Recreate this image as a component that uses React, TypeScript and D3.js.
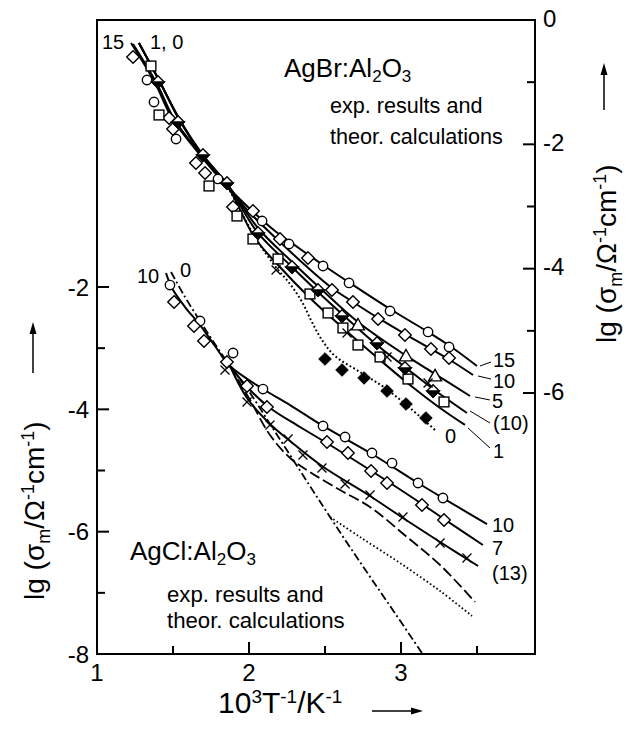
import React from "react";
import * as d3 from "d3";

const FONT = "'Liberation Sans', Arial, Helvetica, sans-serif";

// ---- axis ticks ----
const xTickLabels = [1, 2, 3];
const xMinorTicks = [1.5, 2.5, 3.5];
const leftTickLabels = [-2, -4, -6, -8];
const leftMinorTicks = [-3, -5, -7];
const rightTickLabels = [0, -2, -4, -6];
const rightMinorTicks = [-1, -3, -5];

type P = [number, number];

// ---- AgBr:Al2O3 (right axis) theoretical curves ----
const agBr15: P[] = [[1.224,-0.37],[1.382,-1.013],[1.493,-1.576],[1.678,-2.171],[1.829,-2.606],[2.007,-3.04],[2.171,-3.394],[2.336,-3.683],[2.487,-3.941],[2.664,-4.23],[2.928,-4.649],[3.178,-5.018],[3.322,-5.244],[3.5,-5.565]];
const agBr10: P[] = [[1.237,-0.386],[1.395,-1.029],[1.507,-1.592],[1.691,-2.188],[1.842,-2.638],[2.007,-3.104],[2.204,-3.571],[2.368,-3.941],[2.546,-4.311],[2.684,-4.536],[2.849,-4.793],[3.026,-5.051],[3.197,-5.292],[3.322,-5.469],[3.474,-5.71]];
const agBr5: P[] = [[1.276,-0.37],[1.414,-0.997],[1.546,-1.608],[1.697,-2.171],[1.862,-2.654],[2.059,-3.346],[2.27,-3.86],[2.467,-4.311],[2.717,-4.858],[3.026,-5.388],[3.224,-5.694],[3.454,-6.048]];
const agBr10p: P[] = [[1.276,-0.37],[1.414,-0.997],[1.546,-1.625],[1.697,-2.188],[1.862,-2.67],[2.059,-3.426],[2.283,-3.973],[2.454,-4.375],[2.612,-4.729],[2.842,-5.228],[3.026,-5.581],[3.211,-5.935],[3.434,-6.321]];
const agBr1: P[] = [[1.276,-0.37],[1.414,-0.997],[1.546,-1.625],[1.697,-2.188],[1.862,-2.686],[2.039,-3.506],[2.191,-3.941],[2.401,-4.472],[2.618,-4.954],[2.862,-5.469],[3.059,-5.871],[3.257,-6.241],[3.421,-6.514]];
const agBr0: P[] = [[1.862,-2.686],[2.039,-3.49],[2.171,-3.957],[2.27,-4.246],[2.349,-4.536],[2.414,-4.858],[2.48,-5.147],[2.566,-5.405],[2.73,-5.662],[2.895,-5.919],[3.059,-6.241],[3.224,-6.595]];

// ---- AgBr experimental points ----
const agBrCircles: P[] = [[1.329,-0.965],[1.375,-1.319],[1.52,-1.914],[1.796,-2.557],[2.086,-3.233],[2.263,-3.603],[2.487,-3.957],[2.658,-4.23],[2.928,-4.681],[3.178,-5.018],[3.316,-5.26]];
const agBrDiamonds: P[] = [[1.237,-0.595],[1.474,-1.576],[1.5,-1.753],[1.651,-2.3],[1.711,-2.461],[1.895,-3.008],[2.026,-3.072],[2.204,-3.523],[2.388,-3.828],[2.546,-4.343],[2.684,-4.536],[2.849,-4.809],[3.026,-5.067],[3.197,-5.292],[3.316,-5.437]];
const agBrSquares: P[] = [[1.355,-0.74],[1.408,-1.528],[1.737,-2.67],[1.921,-3.153],[2.026,-3.523],[2.191,-3.844],[2.401,-4.407],[2.52,-4.713],[2.618,-4.954],[2.717,-5.228],[2.862,-5.421],[3.046,-5.775],[3.283,-6.144]];
const agBrHalf: P[] = [[1.401,-0.997],[1.533,-1.641],[1.697,-2.171],[1.855,-2.622],[2.059,-3.426],[2.283,-3.973],[2.454,-4.343],[2.612,-4.761],[2.842,-5.195],[3.026,-5.598],[3.211,-5.968]];
const agBrTriangles: P[] = [[2.717,-4.906],[3.033,-5.405],[3.224,-5.726]];
const agBrFilled: P[] = [[2.5,-5.453],[2.612,-5.63],[2.757,-5.758],[2.908,-5.968],[3.033,-6.177],[3.164,-6.402]];
const agBrCrosses: P[] = [[2.178,-4.021],[2.645,-5.035],[2.908,-5.421],[3.178,-5.839]];

// ---- AgCl:Al2O3 (left axis) theoretical curves ----
const agCl10: P[] = [[1.454,-1.771],[1.493,-2.017],[1.579,-2.328],[1.678,-2.622],[1.776,-2.965],[1.875,-3.292],[2.092,-3.668],[2.27,-3.93],[2.487,-4.272],[2.809,-4.73],[3.112,-5.204],[3.276,-5.45],[3.566,-5.875]];
const agCl7: P[] = [[1.875,-3.292],[2.007,-3.684],[2.138,-3.978],[2.336,-4.289],[2.533,-4.583],[2.796,-4.992],[3.059,-5.417],[3.283,-5.793],[3.539,-6.218]];
const agCl13: P[] = [[1.875,-3.292],[1.987,-3.815],[2.138,-4.24],[2.27,-4.518],[2.48,-4.927],[2.796,-5.417],[3.013,-5.777],[3.257,-6.169],[3.507,-6.561]];
const agClDashed: P[] = [[1.875,-3.292],[2.007,-3.848],[2.138,-4.42],[2.27,-4.796],[2.401,-5.025],[2.599,-5.319],[2.796,-5.597],[3.039,-6.087],[3.257,-6.545],[3.487,-7.15]];
const agClDashDot: P[] = [[1.487,-1.755],[1.579,-2.164],[1.678,-2.556],[1.776,-2.932],[1.875,-3.292],[2.007,-3.733],[2.138,-4.24],[2.27,-4.747],[2.401,-5.254],[2.533,-5.76],[2.73,-6.496],[2.928,-7.215],[3.138,-7.984]];
const agClDotted: P[] = [[2.533,-5.76],[2.73,-6.087],[2.993,-6.512],[3.257,-6.97],[3.467,-7.379]];

// ---- AgCl experimental points ----
const agClCircles: P[] = [[1.48,-1.968],[1.678,-2.556],[1.895,-3.079],[2.092,-3.668],[2.487,-4.272],[2.632,-4.452],[2.809,-4.714],[2.941,-4.878],[3.112,-5.204],[3.276,-5.45]];
const agClDiamonds: P[] = [[1.507,-2.246],[1.638,-2.638],[1.704,-2.883],[1.855,-3.226],[1.987,-3.619],[2.118,-3.962],[2.513,-4.534],[2.651,-4.714],[2.803,-5.008],[2.908,-5.204],[3.138,-5.564],[3.283,-5.809]];
const agClCrosses: P[] = [[1.842,-3.357],[1.987,-3.88],[2.138,-4.256],[2.257,-4.485],[2.355,-4.747],[2.48,-4.96],[2.632,-5.221],[2.796,-5.401],[3.013,-5.76],[3.257,-6.185],[3.434,-6.431]];

const x = d3.scaleLinear().domain([1, 3]).range([97, 401]);
const yL = d3.scaleLinear().domain([-8, -2]).range([654, 287]);
const yR = d3.scaleLinear().domain([-6, 0]).range([393, 20]);

const LEFT = x(1);
const RIGHT = 535;
const TOP = yR(0);
const BOTTOM = yL(-8);

function Marker({ type, cx, cy }: { type: string; cx: number; cy: number }) {
  const sw = 1.4;
  switch (type) {
    case "circle":
      return <circle cx={cx} cy={cy} r={4.7} fill="#fff" stroke="#000" strokeWidth={sw} />;
    case "diamond": {
      const s = 6.3;
      return <path d={`M${cx},${cy - s}L${cx + s},${cy}L${cx},${cy + s}L${cx - s},${cy}Z`} fill="#fff" stroke="#000" strokeWidth={sw} />;
    }
    case "square": {
      const s = 4.9;
      return <rect x={cx - s} y={cy - s} width={2 * s} height={2 * s} fill="#fff" stroke="#000" strokeWidth={sw} />;
    }
    case "half": {
      const s = 6.2;
      return (
        <g>
          <path d={`M${cx},${cy - s}L${cx + s},${cy}L${cx},${cy + s}L${cx - s},${cy}Z`} fill="#fff" stroke="#000" strokeWidth={sw} />
          <path d={`M${cx - s},${cy}L${cx + s},${cy}L${cx},${cy + s}Z`} fill="#000" stroke="#000" strokeWidth={sw} />
        </g>
      );
    }
    case "triangle": {
      const s = 6.5;
      return <path d={`M${cx},${cy - s}L${cx + s},${cy + s * 0.75}L${cx - s},${cy + s * 0.75}Z`} fill="#fff" stroke="#000" strokeWidth={sw} />;
    }
    case "filled": {
      const s = 6.3;
      return <path d={`M${cx},${cy - s}L${cx + s},${cy}L${cx},${cy + s}L${cx - s},${cy}Z`} fill="#000" stroke="#000" strokeWidth={1} />;
    }
    case "cross": {
      const s = 4.5;
      return <path d={`M${cx - s},${cy - s}L${cx + s},${cy + s}M${cx - s},${cy + s}L${cx + s},${cy - s}`} stroke="#000" strokeWidth={1.3} fill="none" />;
    }
  }
  return null;
}

export default function App() {
  const lineR = d3.line<P>().x((d) => x(d[0])).y((d) => yR(d[1])).curve(d3.curveCatmullRom.alpha(0.5));
  const lineL = d3.line<P>().x((d) => x(d[0])).y((d) => yL(d[1])).curve(d3.curveCatmullRom.alpha(0.5));

  const solid = { fill: "none", stroke: "#000", strokeWidth: 2 };

  const pts = (arr: P[], type: string, y: (v: number) => number, key: string) =>
    arr.map((d, i) => <Marker key={key + i} type={type} cx={x(d[0])} cy={y(d[1])} />);

  const supDy = -10;
  const titleFs = 28;
  const subFs = 18;
  return (
    <svg width={633} height={730} style={{ position: "absolute", left: 0, top: 0 }} fontFamily={FONT}>
      <rect x={0} y={0} width={633} height={730} fill="#fff" />

      {/* AgCl curves */}
      <path d={lineL(agClDotted)!} {...solid} strokeWidth={1.8} strokeDasharray="1.6,2.4" />
      <path d={lineL(agClDashDot)!} {...solid} strokeWidth={1.8} strokeDasharray="8,3,2,3" />
      <path d={lineL(agClDashed)!} {...solid} strokeWidth={1.8} strokeDasharray="11,4" />
      <path d={lineL(agCl13)!} {...solid} />
      <path d={lineL(agCl7)!} {...solid} />
      <path d={lineL(agCl10)!} {...solid} />

      {/* AgBr curves */}
      <path d={lineR(agBr0)!} {...solid} strokeWidth={2} strokeDasharray="1.8,2.4" />
      <path d={lineR(agBr1)!} {...solid} />
      <path d={lineR(agBr10p)!} {...solid} />
      <path d={lineR(agBr5)!} {...solid} />
      <path d={lineR(agBr10)!} {...solid} />
      <path d={lineR(agBr15)!} {...solid} />

      {/* markers */}
      {pts(agBrCircles, "circle", yR, "bc")}
      {pts(agBrDiamonds, "diamond", yR, "bd")}
      {pts(agBrSquares, "square", yR, "bs")}
      {pts(agBrHalf, "half", yR, "bh")}
      {pts(agBrTriangles, "triangle", yR, "bt")}
      {pts(agBrFilled, "filled", yR, "bf")}
      {pts(agBrCrosses, "cross", yR, "bx")}
      {pts(agClCircles, "circle", yL, "cc")}
      {pts(agClDiamonds, "diamond", yL, "cd")}
      {pts(agClCrosses, "cross", yL, "cx")}

      {/* frame */}
      <rect x={LEFT} y={TOP} width={RIGHT - LEFT} height={BOTTOM - TOP} fill="none" stroke="#000" strokeWidth={2} />

      {/* x ticks */}
      {xTickLabels.map((v) => (
        <g key={"xt" + v}>
          <line x1={x(v)} x2={x(v)} y1={BOTTOM} y2={BOTTOM - 12} stroke="#000" strokeWidth={2} />
          <text x={x(v)} y={681} fontSize={24} textAnchor="middle">{v}</text>
        </g>
      ))}
      {xMinorTicks.map((v) => (
        <line key={"xm" + v} x1={x(v)} x2={x(v)} y1={BOTTOM} y2={BOTTOM - 8} stroke="#000" strokeWidth={2} />
      ))}
      {/* left ticks */}
      {leftTickLabels.map((v) => (
        <g key={"lt" + v}>
          <line x1={LEFT} x2={LEFT + 12} y1={yL(v)} y2={yL(v)} stroke="#000" strokeWidth={2} />
          <text x={89} y={yL(v)} dy="0.36em" fontSize={24} textAnchor="end">{`${v}`}</text>
        </g>
      ))}
      {leftMinorTicks.map((v) => (
        <line key={"lm" + v} x1={LEFT} x2={LEFT + 8} y1={yL(v)} y2={yL(v)} stroke="#000" strokeWidth={2} />
      ))}
      {/* right ticks */}
      {rightTickLabels.map((v) => (
        <g key={"rt" + v}>
          <line x1={RIGHT} x2={RIGHT - 12} y1={yR(v)} y2={yR(v)} stroke="#000" strokeWidth={2} />
          <text x={543} y={yR(v) - 2} dy="0.36em" fontSize={24} textAnchor="start">{`${v}`}</text>
        </g>
      ))}
      {rightMinorTicks.map((v) => (
        <line key={"rm" + v} x1={RIGHT} x2={RIGHT - 8} y1={yR(v)} y2={yR(v)} stroke="#000" strokeWidth={2} />
      ))}

      {/* axis titles */}
      <text x={218} y={713} fontSize={30}>
        10<tspan fontSize={19} dy={supDy}>3</tspan>
        <tspan dy={-supDy}>T</tspan>
        <tspan fontSize={19} dy={supDy}>-1</tspan>
        <tspan dy={-supDy}>/K</tspan>
        <tspan fontSize={19} dy={supDy}>-1</tspan>
      </text>
      <line x1={372} x2={414} y1={711} y2={711} stroke="#000" strokeWidth={1.5} />
      <path d="M423,711 L411,707.5 L411,714.5 Z" fill="#000" />

      <text transform="translate(44,600) rotate(-90)" fontSize={titleFs}>
        lg (σ<tspan fontSize={subFs} dy={6}>m</tspan>
        <tspan dy={-6}>/Ω</tspan>
        <tspan fontSize={subFs} dy={supDy}>-1</tspan>
        <tspan dy={-supDy}>cm</tspan>
        <tspan fontSize={subFs} dy={supDy}>-1</tspan>
        <tspan dy={-supDy}>)</tspan>
      </text>
      <line x1={33} x2={33} y1={373} y2={331} stroke="#000" strokeWidth={1.5} />
      <path d="M33,322 L29.5,334 L36.5,334 Z" fill="#000" />

      <text transform="translate(616,343) rotate(-90)" fontSize={titleFs}>
        lg (σ<tspan fontSize={subFs} dy={6}>m</tspan>
        <tspan dy={-6}>/Ω</tspan>
        <tspan fontSize={subFs} dy={supDy}>-1</tspan>
        <tspan dy={-supDy}>cm</tspan>
        <tspan fontSize={subFs} dy={supDy}>-1</tspan>
        <tspan dy={-supDy}>)</tspan>
      </text>
      <line x1={604} x2={604} y1={110} y2={72} stroke="#000" strokeWidth={1.5} />
      <path d="M604,63 L600.5,75 L607.5,75 Z" fill="#000" />

      {/* AgBr annotations */}
      <text x={284} y={77} fontSize={26}>
        AgBr:Al<tspan fontSize={17} dy={5}>2</tspan>
        <tspan dy={-5}>O</tspan>
        <tspan fontSize={17} dy={5}>3</tspan>
      </text>
      <text x={330} y={113} fontSize={21.6}>exp. results and</text>
      <text x={330} y={144} fontSize={21.6}>theor. calculations</text>

      {/* AgCl annotations */}
      <text x={130} y={560} fontSize={26}>
        AgCl:Al<tspan fontSize={17} dy={5}>2</tspan>
        <tspan dy={-5}>O</tspan>
        <tspan fontSize={17} dy={5}>3</tspan>
      </text>
      <text x={167} y={602} fontSize={22.2}>exp. results and</text>
      <text x={167} y={628} fontSize={22.2}>theor. calculations</text>

      {/* curve labels */}
      <g fontSize={20}>
        <text x={102} y={49}>15</text>
        <text x={150} y={49}>1, 0</text>
        <text x={137} y={283}>10</text>
        <text x={180} y={277}>0</text>

        <text x={493} y={367}>15</text>
        <text x={493} y={388}>10</text>
        <text x={492} y={408}>5</text>
        <text x={493} y={430}>(10)</text>
        <text x={493} y={458}>1</text>
        <text x={445} y={443}>0</text>

        <text x={492} y={532}>10</text>
        <text x={492} y={555}>7</text>
        <text x={492} y={580}>(13)</text>
      </g>
      {/* leader lines */}
      <g stroke="#000" strokeWidth={1}>
        <line x1={480} y1={366} x2={491} y2={362} />
        <line x1={478} y1={376} x2={491} y2={379} />
        <line x1={475} y1={397} x2={490} y2={400} />
        <line x1={470} y1={411} x2={490} y2={423} />
        <line x1={468} y1={428} x2={490} y2={448} />
      </g>
    </svg>
  );
}
